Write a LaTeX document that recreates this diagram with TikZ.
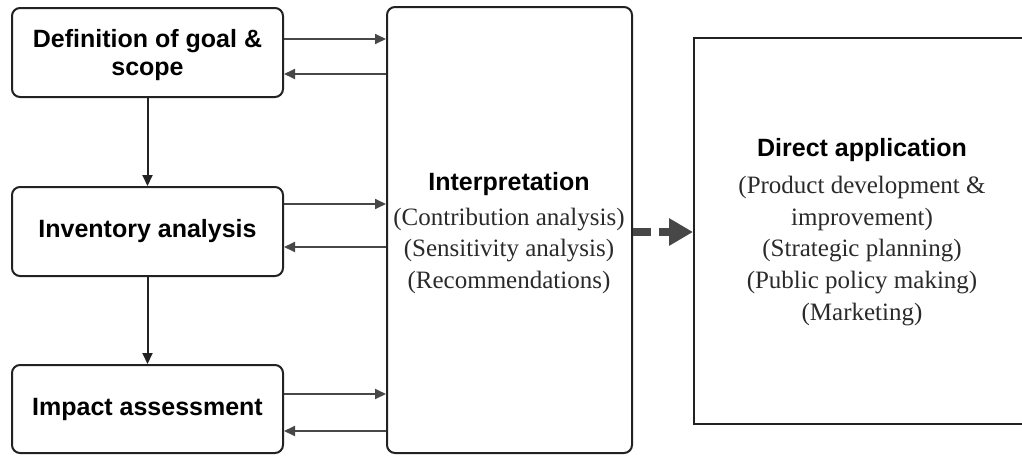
\documentclass[tikz,border=0pt]{standalone}
\usepackage{fontspec}
\setmainfont{Liberation Serif}
\setsansfont{Liberation Sans}
\usetikzlibrary{arrows.meta}
\definecolor{edge}{HTML}{222222}
\definecolor{link}{HTML}{474747}
\definecolor{note}{HTML}{2A2A2A}
\begin{document}
\begin{tikzpicture}[x=1pt,y=-1pt,
  stage/.style={draw=edge, line width=2pt, rounded corners=8pt, fill=white,
    align=center, inner sep=0pt, minimum width=271pt,
    font=\sffamily\bfseries\fontsize{25}{28}\selectfont},
  stagetext/.style={align=center, inner sep=0pt,
    font=\sffamily\bfseries\fontsize{25}{28}\selectfont},
  panel/.style={draw=edge, line width=2pt, align=center, inner sep=0pt},
  notes/.style={align=center, text=note, inner sep=0pt,
    font=\fontsize{25}{31.7}\selectfont},
  flow/.style={draw=link, line width=1.8pt, -{Triangle[length=11pt,width=10pt]}},
  downflow/.style={flow, draw=edge, line width=2pt},
  bigflow/.style={draw=link, line width=8pt, dash pattern=on 18pt off 8pt,
    -{Triangle[length=24pt,width=26pt]}},
]
\useasboundingbox (0,0) rectangle (1022,455);

% life-cycle stages on the left
\node[stage, minimum height=89pt] (goal) at (147.5,52.5) {};
\node[stagetext] (goaltext) at (147.5,55) {Definition of goal \&\\scope};
\node[stage, minimum height=89pt] (inv) at (147.5,231.5)
  {Inventory analysis};
\node[stage, minimum height=88pt] (impact) at (147.5,409)
  {Impact assessment};

% interpretation column
\node[panel, rounded corners=8pt, minimum width=245pt, minimum height=446pt]
  (interp) at (509.5,230) {};
\node[notes] (interptext) at (509,233)
  {{\color{black}\sffamily\bfseries Interpretation}\\[3pt]
   (Contribution analysis)\\(Sensitivity analysis)\\(Recommendations)};

% direct application
\node[panel, minimum width=336pt, minimum height=386pt] (direct) at (862,231) {};
\node[notes] (directtext) at (862,232)
  {{\color{black}\sffamily\bfseries Direct application}\\[5pt]
   (Product development \&\\improvement)\\(Strategic planning)\\
   (Public policy making)\\(Marketing)};

% downward flow between stages
\draw[downflow] (goal) -- (inv);
\draw[downflow] (inv) -- (impact);

% two-way exchange with interpretation
\draw[flow] ([yshift=13.5pt]goal.east) -- ([yshift=13.5pt]goal.east -| interp.west);
\draw[flow] ([yshift=-21.5pt]goal.east -| interp.west) -- ([yshift=-21.5pt]goal.east);
\draw[flow] ([yshift=27.5pt]inv.east) -- ([yshift=27.5pt]inv.east -| interp.west);
\draw[flow] ([yshift=-15.5pt]inv.east -| interp.west) -- ([yshift=-15.5pt]inv.east);
\draw[flow] ([yshift=15pt]impact.east) -- ([yshift=15pt]impact.east -| interp.west);
\draw[flow] ([yshift=-22pt]impact.east -| interp.west) -- ([yshift=-22pt]impact.east);

% interpretation feeds the applications
\draw[bigflow] ([yshift=-2pt]interp.east) -- ([yshift=-2pt]interp.east -| direct.west);
\end{tikzpicture}
\end{document}
